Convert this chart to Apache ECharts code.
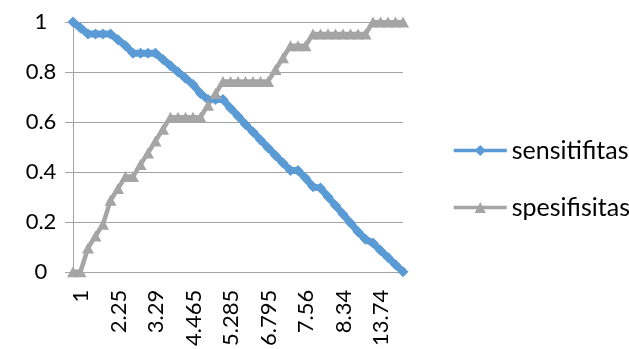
<!DOCTYPE html>
<html>
<head>
<meta charset="utf-8">
<script src="https://cdn.jsdelivr.net/npm/echarts@6/dist/echarts.min.js"></script>
<style>
  html, body { margin: 0; padding: 0; background: #fff; }
  #chart { width: 629px; height: 349px; }
</style>
</head>
<body>
<div id="chart"></div>
<script>
// Cut-off values along the x axis (every fifth one is labelled)
const categories = [
  '1', '1.25', '1.5', '1.75', '2.05',
  '2.25', '2.45', '2.7', '2.9', '3.1',
  '3.29', '3.5', '3.72', '3.97', '4.2',
  '4.465', '4.6', '4.8', '4.95', '5.1',
  '5.285', '5.5', '5.8', '6.1', '6.45',
  '6.795', '6.95', '7.1', '7.25', '7.4',
  '7.56', '7.7', '7.85', '8.0', '8.17',
  '8.34', '8.7', '9.5', '10.8', '12.2',
  '13.74', '15.1', '16.9', '18.5', '20'
];

const sensitifitas = [
  1.000, 0.976, 0.952, 0.952, 0.952,
  0.952, 0.929, 0.905, 0.875, 0.875,
  0.875, 0.875, 0.850, 0.825, 0.800,
  0.775, 0.750, 0.714, 0.690, 0.690,
  0.690, 0.655, 0.623, 0.590, 0.560,
  0.528, 0.497, 0.466, 0.435, 0.405,
  0.405, 0.375, 0.340, 0.335, 0.300,
  0.265, 0.230, 0.195, 0.160, 0.130,
  0.115, 0.085, 0.057, 0.028, 0.000
];

const spesifisitas = [
  0.000, 0.000, 0.095, 0.143, 0.190,
  0.286, 0.333, 0.381, 0.381, 0.429,
  0.476, 0.524, 0.571, 0.619, 0.619,
  0.619, 0.619, 0.619, 0.667, 0.714,
  0.762, 0.762, 0.762, 0.762, 0.762,
  0.762, 0.762, 0.810, 0.857, 0.905,
  0.905, 0.905, 0.952, 0.952, 0.952,
  0.952, 0.952, 0.952, 0.952, 0.952,
  1.000, 1.000, 1.000, 1.000, 1.000
];

const yMin = 0, yMax = 1, yStep = 0.2;

const FONT = 'Lato';
const AXIS_FONT_SIZE = 22;
const LEGEND_FONT_SIZE = 25;
const BLUE = '#5b9bd5';
const GREY = '#a5a5a5';
const GRID_GREY = '#a3a3a3';

const chart = echarts.init(document.getElementById('chart'), null, { renderer: 'canvas' });

chart.setOption({
  animation: false,
  backgroundColor: '#ffffff',
  textStyle: { fontFamily: FONT },
  grid: { left: 73, right: 226, top: 22, bottom: 77, containLabel: false },
  legend: {
    orient: 'vertical',
    left: 447,
    top: 133,
    itemWidth: 53,
    itemHeight: 14,
    itemGap: 32,
    lineStyle: { width: 3.5 },
    textStyle: { fontFamily: FONT, fontSize: LEGEND_FONT_SIZE, color: '#000000' },
    data: ['sensitifitas', 'spesifisitas']
  },
  xAxis: {
    type: 'category',
    data: categories,
    boundaryGap: false,
    axisLine: { show: true, lineStyle: { color: GRID_GREY, width: 1 } },
    axisTick: { show: false },
    axisLabel: {
      interval: 4,
      rotate: 90,
      margin: 18,
      formatter: v => '{a|' + v + '}',
      rich: {
        // top padding nudges the upright-reading labels to the right of each tick
        a: {
          padding: [16, 0, 0, 0],
          fontFamily: FONT,
          fontSize: AXIS_FONT_SIZE,
          color: '#000000'
        }
      }
    },
    splitLine: { show: false }
  },
  yAxis: {
    type: 'value',
    min: yMin,
    max: yMax,
    interval: yStep,
    axisLine: { show: true, lineStyle: { color: GRID_GREY, width: 1 } },
    axisTick: { show: true, length: 8, lineStyle: { color: GRID_GREY } },
    axisLabel: {
      align: 'right',
      margin: 12,
      color: '#000000',
      formatter: v => '{c|' + String(Math.round(v * 10) / 10) + '}',
      rich: {
        c: {
          width: 40,
          align: 'center',
          fontFamily: FONT,
          fontSize: AXIS_FONT_SIZE,
          color: '#000000'
        }
      }
    },
    splitLine: { show: true, lineStyle: { color: GRID_GREY, width: 1 } }
  },
  series: [
    {
      name: 'sensitifitas',
      type: 'line',
      data: sensitifitas,
      symbol: 'diamond',
      symbolSize: 11,
      showAllSymbol: true,
      color: BLUE,
      lineStyle: { color: BLUE, width: 7 },
      itemStyle: { color: BLUE, borderWidth: 0 }
    },
    {
      name: 'spesifisitas',
      type: 'line',
      data: spesifisitas,
      symbol: 'triangle',
      symbolSize: [12, 11],
      showAllSymbol: true,
      color: GREY,
      lineStyle: { color: GREY, width: 4.5 },
      itemStyle: { color: GREY, borderWidth: 0 }
    }
  ]
});
</script>
</body>
</html>
